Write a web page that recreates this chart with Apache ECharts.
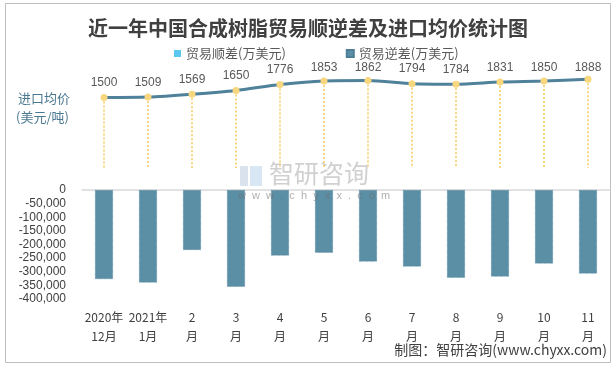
<!DOCTYPE html>
<html><head><meta charset="utf-8">
<script src="https://cdn.jsdelivr.net/npm/echarts@6/dist/echarts.min.js"></script>
<style>html,body{margin:0;padding:0;background:#fff}#c{width:616px;height:368px}</style>
</head><body><div id="c"></div>
<script>
var categories = ['2020年\n12月','2021年\n1月','2\n月','3\n月','4\n月','5\n月','6\n月','7\n月','8\n月','9\n月','10\n月','11\n月'];
var surplus = [null,null,null,null,null,null,null,null,null,null,null,null];
var deficit = [-327000,-340000,-220000,-355000,-241000,-230000,-263000,-281000,-322000,-318000,-270000,-307000];
var price = [1500,1509,1569,1650,1776,1853,1862,1794,1784,1831,1850,1888];
var yTicks = [0,-50000,-100000,-150000,-200000,-250000,-300000,-350000,-400000];

var NUM = '"Liberation Sans","Noto Sans CJK SC",sans-serif';
var CJK = '"Noto Sans CJK SC","Liberation Sans",sans-serif';
var chart = echarts.init(document.getElementById('c'), null, {renderer:'canvas'});

var drops = price.map(function(v,i){ return [{coord:[i,v]},{coord:[i,0]}]; });

chart.setOption({
  animation:false,
  backgroundColor:'#fff',
  title:{text:'近一年中国合成树脂贸易顺逆差及进口均价统计图',left:'center',top:13,
    textStyle:{fontFamily:CJK,fontSize:20,fontWeight:'bold',color:'#404040'}},
  legend:{top:42,left:169,itemWidth:7,itemHeight:7,itemGap:60,icon:'rect',
    textStyle:{fontFamily:CJK,fontSize:13,color:'#595959'},
    data:['贸易顺差(万美元)','贸易逆差(万美元)']},
  grid:[
    {left:82,right:6,top:74,height:94},
    {left:82,right:6,top:190,height:109}
  ],
  xAxis:[
    {gridIndex:0,type:'category',data:categories,show:false},
    {gridIndex:1,type:'category',data:categories,position:'bottom',
      axisLine:{show:false},axisTick:{show:false},
      axisLabel:{margin:9,fontFamily:CJK,fontSize:12,color:'#404040',lineHeight:19,interval:0}},
    {gridIndex:1,type:'category',data:categories,position:'top',
      axisLine:{show:true,lineStyle:{color:'#d9d9d9',width:1.5}},axisTick:{show:false},axisLabel:{show:false}}
  ],
  yAxis:[
    {gridIndex:0,type:'value',min:0,max:2000,show:false},
    {gridIndex:1,type:'value',min:-400000,max:0,interval:50000,
      axisLine:{show:false},axisTick:{show:false},splitLine:{show:false},
      axisLabel:{margin:16,fontFamily:NUM,fontSize:12,color:'#404040',
        formatter:function(v){return v===0?'0':'-'+Math.abs(v).toLocaleString('en-US');}}}
  ],
  graphic:[
    {type:'rect',shape:{x:5.5,y:3.5,width:605,height:359},style:{fill:'none',stroke:'#bfbfbf',lineWidth:1},z:-1},
    {type:'text',left:18,top:92,style:{text:'进口均价',fontFamily:CJK,fontSize:13,fill:'#4b7891'}},
    {type:'text',left:16,top:111,style:{text:'(美元/吨)',fontFamily:CJK,fontSize:13,fill:'#4b7891'}},
    {type:'text',left:269,top:161,z:100,style:{text:'智研咨询',fontFamily:CJK,fontSize:25,fill:'rgba(170,170,170,0.55)',letterSpacing:6}},
    {type:'text',left:238,top:190,z:100,style:{text:'w  w  w  .  c  h  y  x  x  .  c  o  m',fontFamily:NUM,fontSize:11,fill:'rgba(110,110,110,0.55)'}},
    {type:'rect',z:100,shape:{x:240,y:166,width:8,height:20},style:{fill:'rgba(170,190,215,0.45)'}},
    {type:'rect',z:100,shape:{x:250,y:166,width:12,height:20},style:{fill:'rgba(170,200,230,0.45)'}},
    {type:'text',right:9,top:343,style:{text:'制图：智研咨询(www.chyxx.com)',fontFamily:CJK,fontSize:14,fill:'#404040'}}
  ],
  series:[
    {name:'贸易顺差(万美元)',type:'bar',xAxisIndex:1,yAxisIndex:1,stack:'a',data:surplus,
      itemStyle:{color:'#5bc8f0'},barWidth:18},
    {name:'贸易逆差(万美元)',type:'bar',xAxisIndex:1,yAxisIndex:1,stack:'a',data:deficit,
      itemStyle:{color:'#5b8fa6',borderColor:'#4d7f96',borderWidth:0.6,borderType:'dotted'},barWidth:18},
    {name:'进口均价',type:'line',xAxisIndex:0,yAxisIndex:0,data:price,smooth:0.25,
      lineStyle:{color:'#4f819b',width:3},symbol:'circle',symbolSize:7,
      itemStyle:{color:'#f8d77f'},
      label:{show:true,position:'top',distance:5,fontFamily:NUM,fontSize:12,color:'#595959'},
      labelLayout:function(p){ var r=p.labelRect; if(r.y<62){ return {dy:62-r.y}; } },
      markLine:{silent:true,symbol:['none','none'],label:{show:false},
        lineStyle:{color:'#f8d77f',type:'dotted',width:2},data:drops},
      z:5}
  ]
});
</script></body></html>
